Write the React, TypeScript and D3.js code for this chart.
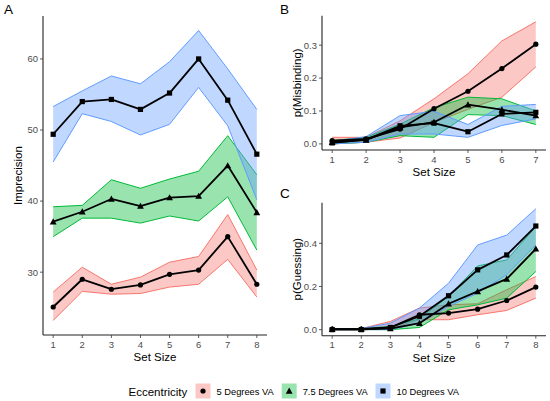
import * as d3 from "d3";

// ---- data ----
const setSizesA = [1, 2, 3, 4, 5, 6, 7, 8];
const setSizesB = [1, 2, 3, 4, 5, 6, 7];
const setSizesC = [1, 2, 3, 4, 5, 6, 7, 8];

const eccLabels = ["5 Degrees VA", "7.5 Degrees VA", "10 Degrees VA"];
const eccColors = ["#F8766D", "#00BA38", "#619CFF"];
const eccShapes = ["circle", "triangle", "square"];

// Panel A: imprecision
const impMean5 = [25.1, 29.0, 27.6, 28.2, 29.7, 30.3, 35.0, 28.3];
const impLow5 = [23.2, 27.3, 26.9, 27.0, 27.9, 28.3, 31.8, 26.5];
const impHigh5 = [27.2, 30.7, 28.3, 29.3, 31.4, 32.2, 38.1, 30.3];
const impMean75 = [37.1, 38.5, 40.3, 39.3, 40.5, 40.7, 45.0, 38.4];
const impLow75 = [35.0, 37.6, 37.6, 36.9, 37.9, 37.2, 40.6, 33.1];
const impHigh75 = [39.2, 39.4, 43.0, 41.8, 43.1, 44.2, 49.2, 43.7];
const impMean10 = [49.4, 54.0, 54.3, 52.9, 55.2, 60.0, 54.2, 46.6];
const impLow10 = [45.5, 52.3, 51.2, 49.3, 50.8, 56.0, 50.6, 40.2];
const impHigh10 = [53.3, 55.5, 57.6, 56.5, 59.6, 64.0, 58.6, 52.9];

// Panel B: misbinding
const misMean5 = [0.010, 0.015, 0.045, 0.107, 0.160, 0.229, 0.303];
const misLow5 = [0.000, 0.005, 0.018, 0.065, 0.105, 0.142, 0.234];
const misHigh5 = [0.020, 0.020, 0.070, 0.137, 0.213, 0.313, 0.371];
const misMean75 = [0.005, 0.012, 0.050, 0.066, 0.119, 0.104, 0.086];
const misLow75 = [0.000, 0.005, 0.025, 0.020, 0.089, 0.086, 0.059];
const misHigh75 = [0.010, 0.020, 0.060, 0.110, 0.142, 0.137, 0.100];
const misMean10 = [0.003, 0.013, 0.055, 0.063, 0.037, 0.091, 0.096];
const misLow10 = [0.000, 0.005, 0.030, 0.030, 0.020, 0.056, 0.076];
const misHigh10 = [0.008, 0.022, 0.086, 0.099, 0.059, 0.114, 0.120];

// Panel C: guessing
const gueMean5 = [0.002, 0.003, 0.010, 0.069, 0.077, 0.095, 0.135, 0.197];
const gueLow5 = [0.000, 0.000, 0.005, 0.046, 0.046, 0.069, 0.089, 0.146];
const gueHigh5 = [0.005, 0.005, 0.038, 0.100, 0.115, 0.120, 0.185, 0.246];
const gueMean75 = [0.002, 0.002, 0.005, 0.030, 0.120, 0.177, 0.235, 0.374];
const gueLow75 = [0.000, 0.000, 0.000, 0.010, 0.092, 0.115, 0.146, 0.269];
const gueHigh75 = [0.005, 0.005, 0.015, 0.050, 0.154, 0.295, 0.323, 0.477];
const gueMean10 = [0.000, 0.000, 0.010, 0.062, 0.157, 0.277, 0.346, 0.480];
const gueLow10 = [0.000, 0.000, 0.000, 0.030, 0.107, 0.169, 0.254, 0.392];
const gueHigh10 = [0.005, 0.005, 0.030, 0.100, 0.215, 0.392, 0.438, 0.560];

const ticksA = [30, 40, 50, 60];
const ticksB = [0.0, 0.1, 0.2, 0.3];
const ticksC = [0.0, 0.2, 0.4];

const FONT = "'Liberation Sans', Arial, sans-serif";

type Series = { mean: number[]; lo: number[]; hi: number[] };

function Marker({ shape, x, y }: { shape: string; x: number; y: number }) {
  if (shape === "circle") return <circle cx={x} cy={y} r={2.6} fill="black" />;
  if (shape === "square") return <rect x={x - 2.6} y={y - 2.6} width={5.2} height={5.2} fill="black" />;
  const s = 3.4;
  return <path d={`M${x},${y - s}L${x + s},${y + s * 0.8}L${x - s},${y + s * 0.8}Z`} fill="black" />;
}

function Panel(props: {
  label: string;
  xs: number[];
  series: Series[];
  ticks: number[];
  fmt: (v: number) => string;
  left: number;
  right: number;
  top: number;
  bottom: number;
  yTitle: string;
  labelX: number;
  labelY: number;
  yTitleX: number;
}) {
  const { xs, series, ticks, fmt, left, right, top, bottom } = props;
  const xExt = d3.extent(xs) as [number, number];
  const xPad = (xExt[1] - xExt[0]) * 0.05;
  const x = d3.scaleLinear().domain([xExt[0] - xPad, xExt[1] + xPad]).range([left, right]);
  const all = series.flatMap((s) => [...s.lo, ...s.hi, ...s.mean]);
  const yExt = d3.extent(all) as [number, number];
  const yPad = (yExt[1] - yExt[0]) * 0.05;
  const y = d3.scaleLinear().domain([yExt[0] - yPad, yExt[1] + yPad]).range([bottom, top]);
  const line = d3.line<number>().x((_, i) => x(xs[i])).y((v) => y(v));

  return (
    <g>
      <text x={props.labelX} y={props.labelY} fontSize={13.5} fill="black">
        {props.label}
      </text>
      {series.map((s, k) => {
        const band = d3
          .area<number>()
          .x((_, i) => x(xs[i]))
          .y0((_, i) => y(s.lo[i]))
          .y1((_, i) => y(s.hi[i]));
        return (
          <g key={k}>
            <path d={band(xs) ?? ""} fill={eccColors[k]} fillOpacity={0.4} stroke="none" />
            <path d={line(s.lo) ?? ""} fill="none" stroke={eccColors[k]} strokeWidth={1} />
            <path d={line(s.hi) ?? ""} fill="none" stroke={eccColors[k]} strokeWidth={1} />
          </g>
        );
      })}
      {series.map((s, k) => (
        <g key={k}>
          <path d={line(s.mean) ?? ""} fill="none" stroke="black" strokeWidth={1.8} strokeLinejoin="round" />
          {s.mean.map((v, i) => (
            <Marker key={i} shape={eccShapes[k]} x={x(xs[i])} y={y(v)} />
          ))}
        </g>
      ))}
      {/* axes */}
      <line x1={left} x2={left} y1={top} y2={bottom} stroke="#222" strokeWidth={1.1} />
      <line x1={left} x2={right} y1={bottom} y2={bottom} stroke="#222" strokeWidth={1.1} />
      {xs.map((v) => (
        <g key={v}>
          <line x1={x(v)} x2={x(v)} y1={bottom} y2={bottom + 3} stroke="#333" strokeWidth={0.8} />
          <text x={x(v)} y={bottom + 12.5} fontSize={9.5} fill="#4D4D4D" textAnchor="middle">
            {v}
          </text>
        </g>
      ))}
      {ticks.map((v) => (
        <g key={v}>
          <line x1={left - 3} x2={left} y1={y(v)} y2={y(v)} stroke="#333" strokeWidth={0.8} />
          <text x={left - 5} y={y(v) + 3.4} fontSize={9.5} fill="#4D4D4D" textAnchor="end">
            {fmt(v)}
          </text>
        </g>
      ))}
      <text x={(left + right) / 2} y={bottom + 26} fontSize={11.5} textAnchor="middle" fill="black">
        Set Size
      </text>
      <text
        transform={`translate(${props.yTitleX},${(top + bottom) / 2}) rotate(-90)`}
        fontSize={11.5}
        textAnchor="middle"
        fill="black"
      >
        {props.yTitle}
      </text>
    </g>
  );
}

export default function App() {
  const seriesA: Series[] = [
    { mean: impMean5, lo: impLow5, hi: impHigh5 },
    { mean: impMean75, lo: impLow75, hi: impHigh75 },
    { mean: impMean10, lo: impLow10, hi: impHigh10 },
  ];
  const seriesB: Series[] = [
    { mean: misMean5, lo: misLow5, hi: misHigh5 },
    { mean: misMean75, lo: misLow75, hi: misHigh75 },
    { mean: misMean10, lo: misLow10, hi: misHigh10 },
  ];
  const seriesC: Series[] = [
    { mean: gueMean5, lo: gueLow5, hi: gueHigh5 },
    { mean: gueMean75, lo: gueLow75, hi: gueHigh75 },
    { mean: gueMean10, lo: gueLow10, hi: gueHigh10 },
  ];
  const f0 = d3.format("d");
  const f1 = d3.format(".1f");

  const legendKeys = [195.5, 281.7, 375.5];
  return (
    <svg
      width={550}
      height={401}
      style={{ position: "absolute", left: 0, top: 0, background: "white" }}
      fontFamily={FONT}
    >
      <rect width={550} height={401} fill="white" />
      <Panel
        label="A"
        xs={setSizesA}
        series={seriesA}
        ticks={ticksA}
        fmt={f0}
        left={43}
        right={267}
        top={16}
        bottom={335}
        yTitle="Imprecision"
        labelX={4}
        labelY={14}
        yTitleX={22}
      />
      <Panel
        label="B"
        xs={setSizesB}
        series={seriesB}
        ticks={ticksB}
        fmt={f1}
        left={322}
        right={546}
        top={15.7}
        bottom={150}
        yTitle="p(Misbinding)"
        labelX={280}
        labelY={14}
        yTitleX={300.5}
      />
      <Panel
        label="C"
        xs={setSizesC}
        series={seriesC}
        ticks={ticksC}
        fmt={f1}
        left={322}
        right={546}
        top={202.7}
        bottom={335.7}
        yTitle="p(Guessing)"
        labelX={280}
        labelY={198}
        yTitleX={300.5}
      />
      {/* legend */}
      <text x={128.5} y={396} fontSize={11.5} fill="black">
        Eccentricity
      </text>
      {eccLabels.map((lab, k) => (
        <g key={lab}>
          <rect x={legendKeys[k]} y={383.5} width={15} height={15} fill={eccColors[k]} fillOpacity={0.4} />
          <Marker shape={eccShapes[k]} x={legendKeys[k] + 7.5} y={391} />
          <text x={legendKeys[k] + 21} y={394.5} fontSize={9.3} fill="black">
            {lab}
          </text>
        </g>
      ))}
    </svg>
  );
}
